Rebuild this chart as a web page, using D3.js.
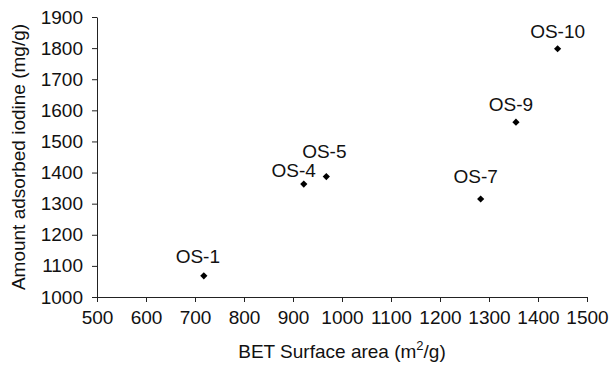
<!DOCTYPE html>
<html>
<head>
<meta charset="utf-8">
<script src="https://cdn.jsdelivr.net/npm/d3@7"></script>
<style>
  body { margin: 0; background: #fff; }
  svg { display: block; font-family: "Liberation Sans", Arial, sans-serif; }
  .axis path, .axis line { stroke: #222; stroke-width: 1; }
  .axis text { fill: #111; font-size: 19px; }
</style>
</head>
<body>
<div class="scatter"></div>
<script>
// sample names and measured values
const samples = ['OS-1', 'OS-4', 'OS-5', 'OS-7', 'OS-9', 'OS-10'];
const surfaceArea = [718, 922, 968, 1283, 1355, 1440];
const iodine = [1068, 1363, 1387, 1315, 1562, 1798];

const xTicks = [500, 600, 700, 800, 900, 1000, 1100, 1200, 1300, 1400, 1500];
const yTicks = [1000, 1100, 1200, 1300, 1400, 1500, 1600, 1700, 1800, 1900];

// label placement relative to each point (dx, dy in px)
const labelShift = [[-6, -13], [-10, -7], [-2, -19], [-5, -16], [-5, -11], [0, -11]];

const W = 614, H = 365;
const margin = { top: 17, right: 27, bottom: 68, left: 97 };
const width = W - margin.left - margin.right;
const height = H - margin.top - margin.bottom;

const svg = d3.select('.scatter').append('svg')
  .attr('width', W)
  .attr('height', H);

const g = svg.append('g')
  .attr('transform', 'translate(' + margin.left + ',' + margin.top + ')');

const x = d3.scaleLinear().domain([500, 1500]).range([0, width]);
const y = d3.scaleLinear().domain([1000, 1900]).range([height, 0]);

g.append('g')
  .attr('class', 'axis')
  .attr('transform', 'translate(0,' + height + ')')
  .call(d3.axisBottom(x).tickValues(xTicks).tickSize(5).tickPadding(9).tickSizeOuter(0).tickFormat(d3.format('d')));

g.append('g')
  .attr('class', 'axis')
  .call(d3.axisLeft(y).tickValues(yTicks).tickSize(5).tickPadding(9).tickSizeOuter(0).tickFormat(d3.format('d')));

const data = samples.map((s, i) => ({ name: s, x: surfaceArea[i], y: iodine[i], shift: labelShift[i] }));

g.append('g')
  .selectAll('path')
  .data(data)
  .enter().append('path')
  .attr('d', d3.symbol().type(d3.symbolSquare).size(26))
  .attr('transform', d => 'translate(' + x(d.x) + ',' + y(d.y) + ') rotate(45)')
  .attr('fill', '#000');

g.append('g')
  .attr('font-size', 19)
  .attr('text-anchor', 'middle')
  .selectAll('text')
  .data(data)
  .enter().append('text')
  .attr('x', d => x(d.x) + d.shift[0])
  .attr('y', d => y(d.y) + d.shift[1])
  .attr('fill', '#111')
  .text(d => d.name);

// axis titles
const xTitle = svg.append('text')
  .attr('x', margin.left + width / 2)
  .attr('y', 358)
  .attr('text-anchor', 'middle')
  .attr('font-size', 19)
  .attr('fill', '#111');
xTitle.append('tspan').text('BET Surface area (m');
xTitle.append('tspan').attr('font-size', 13).attr('dy', -8).text('2');
xTitle.append('tspan').attr('dy', 8).text('/g)');

svg.append('text')
  .attr('transform', 'translate(25,' + (margin.top + height / 2) + ') rotate(-90)')
  .attr('text-anchor', 'middle')
  .attr('font-size', 19)
  .attr('fill', '#111')
  .text('Amount adsorbed iodine (mg/g)');
</script>
</body>
</html>
